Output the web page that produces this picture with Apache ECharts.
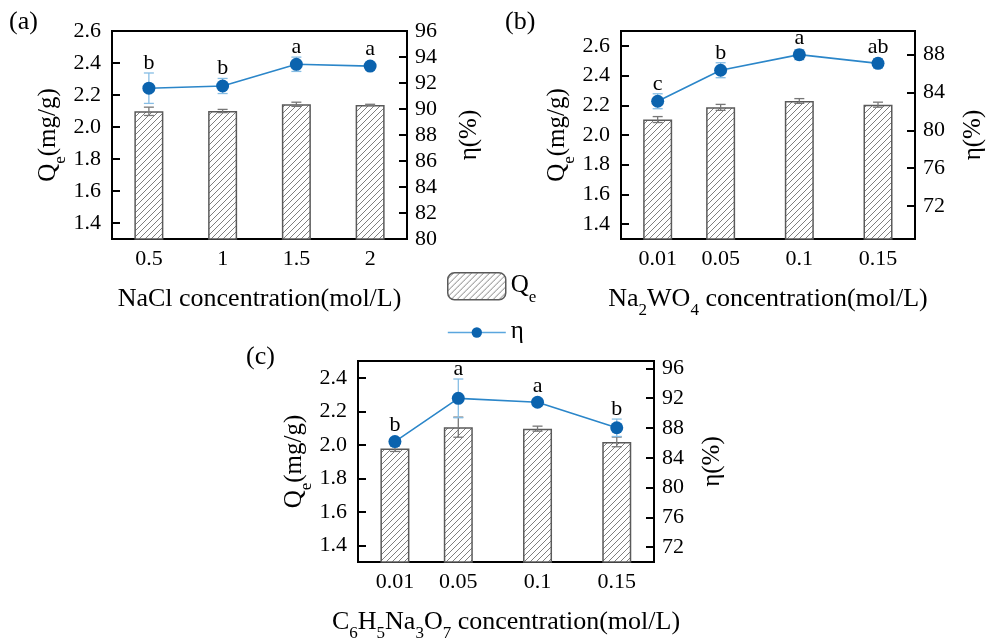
<!DOCTYPE html>
<html><head><meta charset="utf-8">
<script src="https://cdn.jsdelivr.net/npm/echarts@6/dist/echarts.min.js"></script>
<style>html,body{margin:0;padding:0;background:#fff}#c{width:987px;height:643px}</style>
</head><body><div id="c"></div>
<script>
// ---------- Panel (a): NaCl ----------
const xA = [0.5, 1, 1.5, 2];
const qeA = [2.098, 2.100, 2.142, 2.138];
const qeErrA = [0.026, 0.010, 0.013, 0.004];
const etaA = [91.60, 91.77, 93.44, 93.30];
const etaErrA = [1.17, 0.58, 0.55, 0.20];
const letA = ['b', 'b', 'a', 'a'];
// ---------- Panel (b): Na2WO4 ----------
const xB = [0.01, 0.05, 0.1, 0.15];
const qeB = [2.104, 2.186, 2.229, 2.204];
const qeErrB = [0.020, 0.020, 0.016, 0.017];
const etaB = [83.07, 86.35, 88.00, 87.08];
const etaErrB = [0.79, 0.79, 0.53, 0.50];
const letB = ['c', 'b', 'a', 'ab'];
// ---------- Panel (c): C6H5Na3O7 ----------
const xC = [0.01, 0.05, 0.1, 0.15];
const qeC = [1.977, 2.105, 2.096, 2.017];
const qeErrC = [0.017, 0.060, 0.015, 0.029];
const etaC = [86.18, 91.98, 91.46, 88.03];
const etaErrC = [0.25, 2.60, 0.48, 1.17];
const letC = ['b', 'a', 'a', 'b'];
// ---------- tick labels ----------
const qeTicksA = [1.4, 1.6, 1.8, 2.0, 2.2, 2.4, 2.6];
const etaTicksA = [80, 82, 84, 86, 88, 90, 92, 94, 96];
const qeTicksB = [1.4, 1.6, 1.8, 2.0, 2.2, 2.4, 2.6];
const etaTicksB = [72, 76, 80, 84, 88];
const qeTicksC = [1.4, 1.6, 1.8, 2.0, 2.2, 2.4];
const etaTicksC = [72, 76, 80, 84, 88, 92, 96];
const xTicksA = [0.5, 1, 1.5, 2];
const xTicksBC = [0.01, 0.05, 0.1, 0.15];

const FONT = '"Liberation Serif", "Times New Roman", serif';
const BAR_BORDER = '#5a5a5a';
const LINE_COLOR = '#2b86c9';
const MARK_COLOR = '#0b63ae';
const ERR_BLUE = '#86bde4';
const ERR_GRAY = '#777777';

// hatch pattern
function hatch() {
  const s = 6;
  const cv = document.createElement('canvas');
  cv.width = s; cv.height = s;
  const g = cv.getContext('2d');
  g.fillStyle = '#fff'; g.fillRect(0, 0, s, s);
  g.strokeStyle = '#707070'; g.lineWidth = 0.9;
  g.beginPath();
  g.moveTo(0, s); g.lineTo(s, 0);
  g.moveTo(-1, 1); g.lineTo(1, -1);
  g.moveTo(s - 1, s + 1); g.lineTo(s + 1, s - 1);
  g.stroke();
  return { image: cv, repeat: 'repeat' };
}
const HATCH = hatch();

function richFor(size) {
  return {
    q: { fontFamily: FONT, fontSize: size, color: '#000', lineHeight: size + 2, verticalAlign: 'top' },
    s: { fontFamily: FONT, fontSize: Math.round(size * 0.66), color: '#000', lineHeight: Math.round(size * 0.66), verticalAlign: 'top', padding: [Math.round(size * 0.62), 0, 0, 0] }
  };
}

function errRender(color, letters) {
  return function (params, api) {
    const x = api.value(0), v = api.value(1), e = api.value(2);
    const hi = api.coord([x, v + e]);
    const lo = api.coord([x, v - e]);
    const c = api.coord([x, v]);
    const hw = 5;
    const st = { stroke: color, lineWidth: 1.3 };
    const children = [
      { type: 'line', shape: { x1: hi[0], y1: hi[1], x2: lo[0], y2: lo[1] }, style: st },
      { type: 'line', shape: { x1: hi[0] - hw, y1: hi[1], x2: hi[0] + hw, y2: hi[1] }, style: st },
      { type: 'line', shape: { x1: lo[0] - hw, y1: lo[1], x2: lo[0] + hw, y2: lo[1] }, style: st }
    ];
    if (letters) {
      const top = Math.min(hi[1], c[1] - 6.5);
      children.push({
        type: 'text', x: c[0], y: top + 1,
        style: { text: letters[params.dataIndex], fontFamily: FONT, fontSize: 22, fill: '#000', align: 'center', verticalAlign: 'bottom' }
      });
    }
    return { type: 'group', children: children };
  };
}

const grids = [
  { left: 112, top: 31, width: 295, height: 208 },
  { left: 621, top: 31, width: 296, height: 208 },
  { left: 358, top: 361, width: 296, height: 208 }
];
const panels = [
  { x: xA, qe: qeA, qeErr: qeErrA, eta: etaA, etaErr: etaErrA, let: letA,
    xmin: 0.25, xmax: 2.25, xTicks: xTicksA,
    qmin: 1.3, qmax: 2.6, qTicks: qeTicksA, emin: 80, emax: 96, eTicks: etaTicksA, eGap: 50,
    xname: '{q|NaCl concentration(mol/L)}' },
  { x: xB, qe: qeB, qeErr: qeErrB, eta: etaB, etaErr: etaErrB, let: letB,
    xmin: -0.0133, xmax: 0.1735, xTicks: xTicksBC,
    qmin: 1.3, qmax: 2.7, qTicks: qeTicksB, emin: 68.5, emax: 90.5, eTicks: etaTicksB, eGap: 46,
    xname: '{q|Na}{s|2}{q|WO}{s|4}{q| concentration(mol/L)}' },
  { x: xC, qe: qeC, qeErr: qeErrC, eta: etaC, etaErr: etaErrC, let: letC,
    xmin: -0.0133, xmax: 0.1735, xTicks: xTicksBC,
    qmin: 1.3, qmax: 2.5, qTicks: qeTicksC, emin: 70, emax: 97, eTicks: etaTicksC, eGap: 46,
    xname: '{q|C}{s|6}{q|H}{s|5}{q|Na}{s|3}{q|O}{s|7}{q| concentration(mol/L)}' }
];

const xAxis = [], yAxis = [], series = [];
const labelStyle = { fontFamily: FONT, fontSize: 22, color: '#000' };
panels.forEach(function (p, i) {
  xAxis.push({
    type: 'value', gridIndex: i, min: p.xmin, max: p.xmax,
    name: p.xname, nameLocation: 'middle', nameGap: 47,
    nameTextStyle: { rich: richFor(26) },
    axisLine: { show: true, onZero: false, lineStyle: { color: '#000', width: 2 } },
    axisTick: { show: true, inside: true, length: 8, lineStyle: { color: '#000', width: 2 }, customValues: p.xTicks },
    axisLabel: Object.assign({ margin: 9, customValues: p.xTicks, formatter: function (v) { return String(v); } }, labelStyle),
    splitLine: { show: false }
  });
  yAxis.push({
    type: 'value', gridIndex: i, min: p.qmin, max: p.qmax, position: 'left',
    name: '{q|Q}{s|e}{q|(mg/g)}', nameLocation: 'middle', nameRotate: 90, nameGap: 49,
    nameTextStyle: { rich: richFor(25) },
    axisLine: { show: true, onZero: false, lineStyle: { color: '#000', width: 2 } },
    axisTick: { show: true, inside: true, length: 8, lineStyle: { color: '#000', width: 2 }, customValues: p.qTicks },
    axisLabel: Object.assign({ margin: 11, customValues: p.qTicks, formatter: function (v) { return v.toFixed(1); } }, labelStyle),
    splitLine: { show: false }
  });
  yAxis.push({
    type: 'value', gridIndex: i, min: p.emin, max: p.emax, position: 'right',
    name: 'η(%)', nameLocation: 'middle', nameRotate: 90, nameGap: p.eGap,
    nameTextStyle: { fontFamily: FONT, fontSize: 25, color: '#000' },
    axisLine: { show: true, onZero: false, lineStyle: { color: '#000', width: 2 } },
    axisTick: { show: true, inside: true, length: 8, lineStyle: { color: '#000', width: 2 }, customValues: p.eTicks },
    axisLabel: Object.assign({ margin: 8, customValues: p.eTicks, formatter: function (v) { return String(v); } }, labelStyle),
    splitLine: { show: false }
  });
  const qi = i * 2, ei = i * 2 + 1;
  series.push({
    name: 'Qe', type: 'bar', xAxisIndex: i, yAxisIndex: qi, barWidth: 29, z: 1,
    itemStyle: { color: HATCH, borderColor: BAR_BORDER, borderWidth: 1.5 },
    data: p.x.map(function (x, k) { return [x, p.qe[k]]; })
  });
  series.push({
    name: 'η', type: 'line', xAxisIndex: i, yAxisIndex: ei, z: 5,
    symbol: 'circle', symbolSize: 13, showAllSymbol: true,
    lineStyle: { color: LINE_COLOR, width: 1.6 },
    itemStyle: { color: MARK_COLOR },
    data: p.x.map(function (x, k) { return [x, p.eta[k]]; })
  });
  series.push({
    name: 'Qe err', type: 'custom', xAxisIndex: i, yAxisIndex: qi, z: 3,
    renderItem: errRender(ERR_GRAY, null), silent: true,
    data: p.x.map(function (x, k) { return [x, p.qe[k], p.qeErr[k]]; })
  });
  series.push({
    name: 'η err', type: 'custom', xAxisIndex: i, yAxisIndex: ei, z: 4,
    renderItem: errRender(ERR_BLUE, p.let), silent: true,
    data: p.x.map(function (x, k) { return [x, p.eta[k], p.etaErr[k]]; })
  });
});

const chart = echarts.init(document.getElementById('c'), null, { renderer: 'canvas' });
chart.setOption({
  animation: false,
  backgroundColor: '#fff',
  title: [
    { text: '(a)', left: 9, top: 9, padding: 0, textStyle: { fontFamily: FONT, fontSize: 26, fontWeight: 'normal', color: '#000' } },
    { text: '(b)', left: 505, top: 9, padding: 0, textStyle: { fontFamily: FONT, fontSize: 26, fontWeight: 'normal', color: '#000' } },
    { text: '(c)', left: 246, top: 344, padding: 0, textStyle: { fontFamily: FONT, fontSize: 26, fontWeight: 'normal', color: '#000' } }
  ],
  legend: [
    { data: [{ name: 'Qe', itemStyle: { color: HATCH, borderColor: BAR_BORDER, borderWidth: 1.5 } }],
      left: 447, top: 272, padding: 0, itemWidth: 58, itemHeight: 27, itemGap: 6,
      formatter: function () { return '{q|Q}{s|e}'; },
      textStyle: { rich: richFor(25) }, selectedMode: false },
    { data: [{ name: 'η' }],
      left: 447, top: 319, padding: 0, itemWidth: 58, itemHeight: 13,
      lineStyle: { color: '#5aa6de', width: 1.6 },
      formatter: function () { return '{q|η}'; },
      textStyle: { rich: richFor(25) }, selectedMode: false }
  ],
  grid: grids.map(function (g) { return Object.assign({ show: true, borderColor: '#000', borderWidth: 2, backgroundColor: 'transparent' }, g); }),
  xAxis: xAxis,
  yAxis: yAxis,
  series: series
});
</script>
</body></html>
